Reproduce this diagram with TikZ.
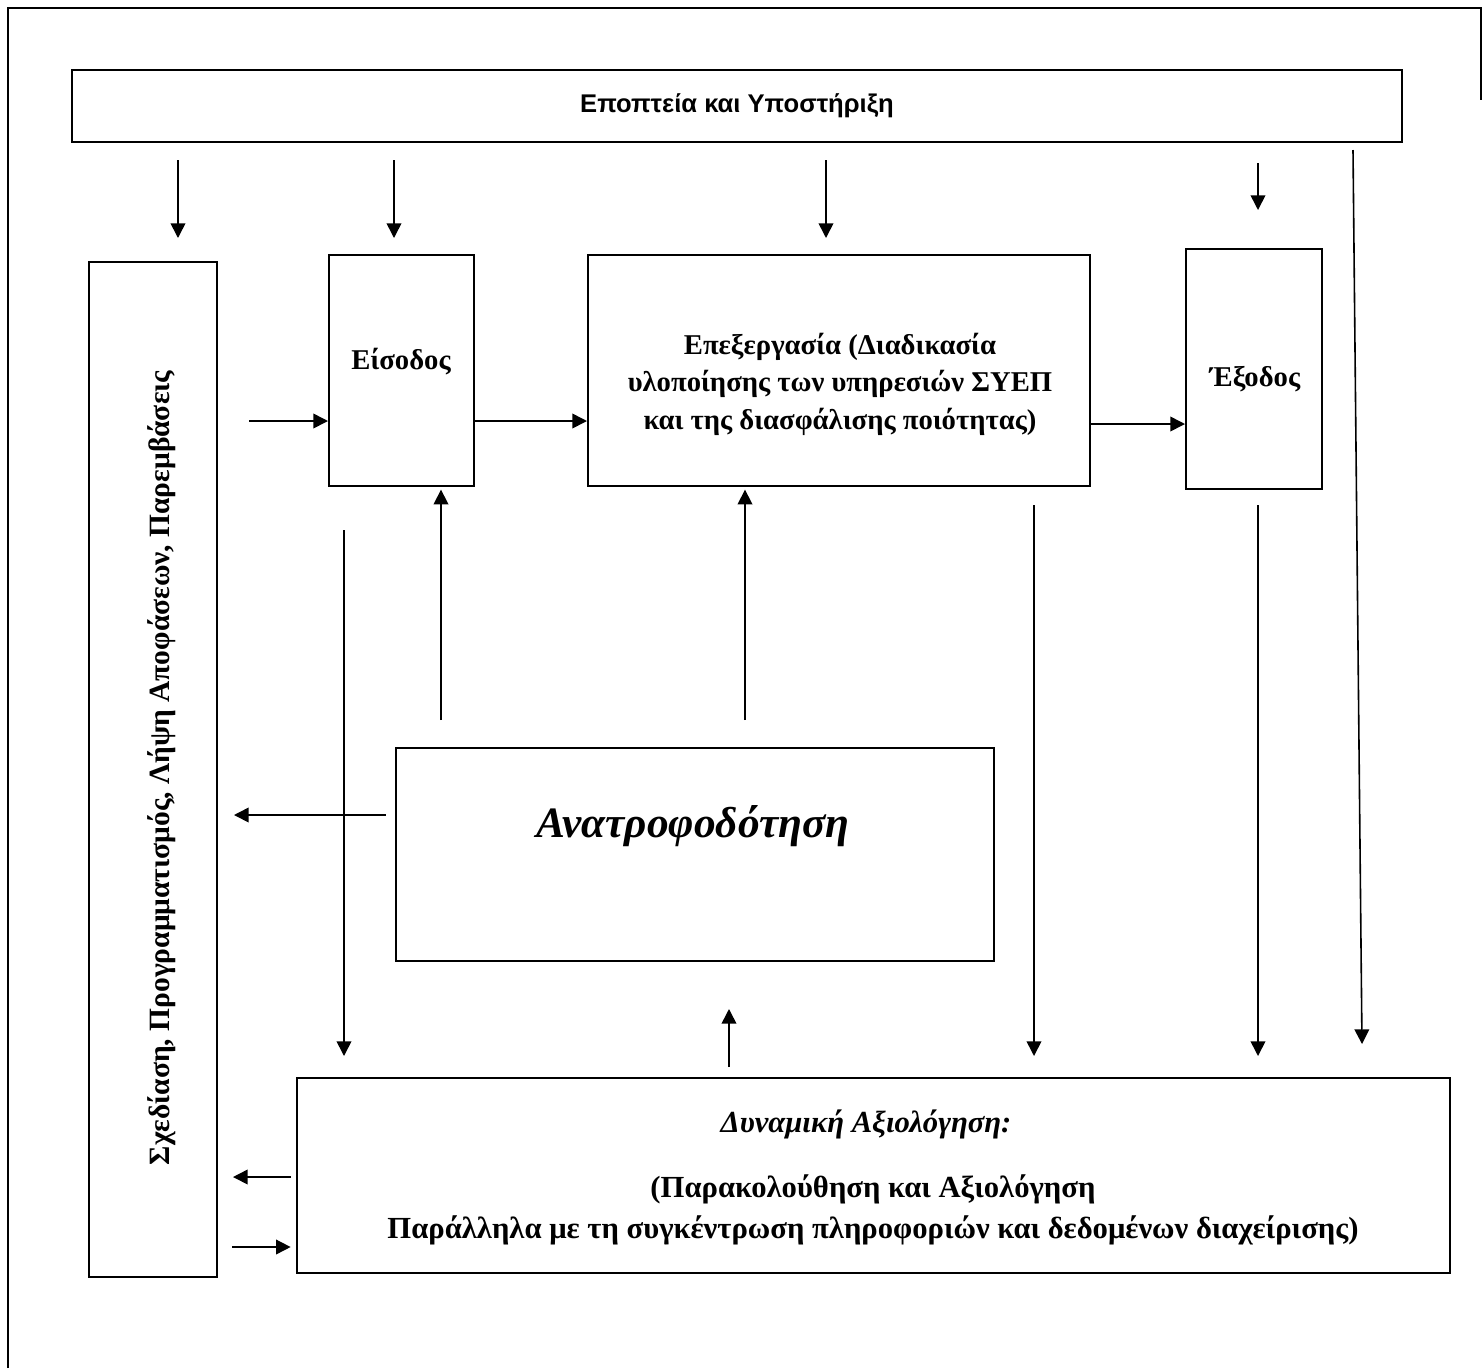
\documentclass[tikz,border=0pt]{standalone}
\usepackage{fontspec}
\setmainfont{Liberation Serif}
\newfontfamily\labelsans{Liberation Sans}
\usetikzlibrary{arrows.meta,fit,calc}

\begin{document}
\begin{tikzpicture}[x=0.75pt,y=-0.75pt,
  box/.style={draw, line width=1.5pt, inner sep=0pt, rectangle},
  arr/.style={line width=1.2pt, -{Triangle[length=11pt,width=11pt]}},
  txt/.style={font=\fontsize{21.5}{28}\selectfont\bfseries, align=center, inner sep=0pt},
  btxt/.style={font=\fontsize{23}{28}\selectfont\bfseries, align=center, inner sep=0pt},
  bitxt/.style={font=\fontsize{23}{28}\selectfont\bfseries\itshape, align=center, inner sep=0pt},
]
\useasboundingbox (0,0) rectangle (1482,1368);

% page frame
\draw[line width=1.5pt] (8,1368) -- (8,8) -- (1481,8) -- (1481,100);

% boxes
\node[box, fit={(72,70)(1402,142)}] (sup) {};
\node[box, fit={(89,262)(217,1277)}] (plan) {};
\node[box, fit={(329,255)(474,486)}] (ein) {};
\node[box, fit={(588,255)(1090,486)}] (proc) {};
\node[box, fit={(1186,249)(1322,489)}] (exo) {};
\node[box, fit={(396,748)(994,961)}] (fb) {};
\node[box, fit={(297,1078)(1450,1273)}] (eval) {};

% labels
\node[font=\labelsans\fontsize{19.2}{22}\selectfont\bfseries, inner sep=0pt] (supt) at (sup.center) {Εποπτεία και Υποστήριξη};
\node[font=\fontsize{22.1}{28}\selectfont\bfseries, inner sep=0pt, rotate=90] (plant) at (162,768) {Σχεδίαση, Προγραμματισμός, Λήψη Αποφάσεων, Παρεμβάσεις};
\node[txt, anchor=base] (eint) at (401,369) {Είσοδος};
\node[txt, anchor=base] (proct) at (840,429) {Επεξεργασία (Διαδικασία\\υλοποίησης των υπηρεσιών ΣΥΕΠ\\και της διασφάλισης ποιότητας)};
\node[txt, anchor=base] (exot) at (1255,386) {Έξοδος};
\node[font=\fontsize{32.5}{40}\selectfont\bfseries\itshape, inner sep=0pt, anchor=base] (fbt) at (693,837) {Ανατροφοδότηση};
\node[bitxt, anchor=base] (evt1) at (866,1132) {Δυναμική Αξιολόγηση:};
\node[btxt, anchor=base] (evt2) at (873,1197) {(Παρακολούθηση και Αξιολόγηση};
\node[btxt, anchor=base] (evt3) at (873,1238) {Παράλληλα με τη συγκέντρωση πληροφοριών και δεδομένων διαχείρισης)};

% arrow end points
\coordinate (s1a) at (178,160);  \coordinate (s1b) at (178,238);
\coordinate (s2a) at (394,160);  \coordinate (s2b) at (394,238);
\coordinate (s3a) at (826,160);  \coordinate (s3b) at (826,238);
\coordinate (s4a) at (1258,163); \coordinate (s4b) at (1258,210);
\coordinate (inS) at (249,421);
\coordinate (pe) at (0,424);
\coordinate (d1a) at (344,530);  \coordinate (d1b) at (344,1056);
\coordinate (u1) at (441,720);
\coordinate (u2) at (745,720);
\coordinate (fbl) at (234,815);
\coordinate (d2a) at (1034,505); \coordinate (d2b) at (1034,1056);
\coordinate (d3a) at (1258,505); \coordinate (d3b) at (1258,1056);
\coordinate (sla) at (1353,150); \coordinate (slb) at (1362,1044);
\coordinate (u3a) at (729,1067); \coordinate (u3b) at (729,1009);
\coordinate (evl) at (233,1177);
\coordinate (evr) at (232,1247);

% supervision arrows
\draw[arr] (s1a) -- (s1b);
\draw[arr] (s2a) -- (s2b);
\draw[arr] (s3a) -- (s3b);
\draw[arr] (s4a) -- (s4b);
\draw[arr] (sla) -- (slb);

% main flow
\draw[arr] (inS) -- (inS -| ein.west);
\draw[arr] (ein.east |- inS) -- (proc.west |- inS);
\draw[arr] (proc.east |- pe) -- (exo.west |- pe);

% feedback paths
\draw[arr, shorten >=2pt] (u1) -- (u1 |- ein.south);
\draw[arr, shorten >=2pt] (u2) -- (u2 |- proc.south);
\draw[arr, shorten <=7pt] (fb.west |- fbl) -- (fbl);
\draw[arr] (u3a) -- (u3b);

% evaluation paths
\draw[arr] (d1a) -- (d1b);
\draw[arr] (d2a) -- (d2b);
\draw[arr] (d3a) -- (d3b);
\draw[arr, shorten <=4pt] (eval.west |- evl) -- (evl);
\draw[arr, shorten >=4pt] (evr) -- (evr -| eval.west);
\end{tikzpicture}
\end{document}
